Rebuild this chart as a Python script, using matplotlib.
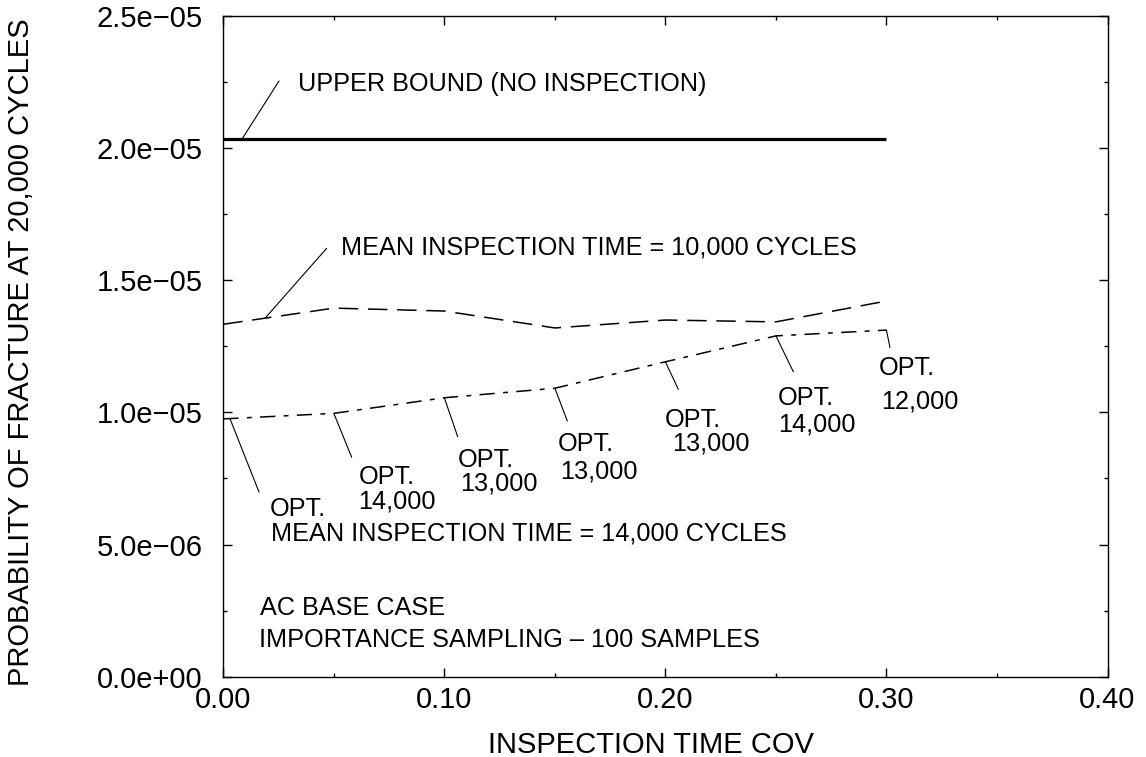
import matplotlib
matplotlib.use("Agg")
import matplotlib.pyplot as plt
from matplotlib.ticker import MultipleLocator, FuncFormatter
import numpy as np

# Inspection time COV values and fracture probabilities
cov = [0.0, 0.05, 0.10, 0.15, 0.20, 0.25, 0.30]
p_mean_10k = [1.333e-5, 1.394e-5, 1.383e-5, 1.319e-5, 1.349e-5, 1.342e-5, 1.421e-5]
p_mean_14k = [9.75e-6, 9.96e-6, 1.055e-5, 1.091e-5, 1.191e-5, 1.289e-5, 1.311e-5]
upper_bound = 2.034e-5
opt_labels = ["", "14,000", "13,000", "13,000", "13,000", "14,000", "12,000"]

x_ticks = [0.0, 0.1, 0.2, 0.3, 0.4]

W, H = 1146, 757
plt.rcParams['font.family'] = ['Liberation Sans', 'DejaVu Sans']
plt.rcParams['lines.scale_dashes'] = False

fig = plt.figure(figsize=(W / 100, H / 100), dpi=100)
ax = fig.add_axes([223.3 / W, 1 - 676.7 / H, (1107.5 - 223.3) / W, (676.7 - 15.7) / H])

# curves
ax.plot([cov[0], cov[-1]], [upper_bound, upper_bound], color='black', lw=2.3, solid_capstyle='butt')
ax.plot(cov, p_mean_10k, color='black', lw=1.1, dashes=(14, 7))
ax.plot(cov, p_mean_14k, color='black', lw=1.1, dashes=(11, 6, 3.5, 6))

ax.set_xlim(0, 0.4)
ax.set_ylim(0, 2.5e-5)
ax.set_xticks(x_ticks)
ax.xaxis.set_minor_locator(MultipleLocator(0.05))
ax.yaxis.set_major_locator(MultipleLocator(5e-6))
ax.yaxis.set_minor_locator(MultipleLocator(2.5e-6))
ax.xaxis.set_major_formatter(FuncFormatter(lambda v, p: f"{v:.2f}"))
ax.yaxis.set_major_formatter(FuncFormatter(lambda v, p: f"{v:.1e}".replace('-', '\u2212')))
ax.tick_params(which='both', direction='in', top=True, right=True, width=1, labelsize=21)
ax.tick_params(which='major', length=6.5)
ax.tick_params(which='minor', length=3.1)
ax.tick_params(axis='y', pad=15)
ax.tick_params(axis='x', pad=7)
for s in ax.spines.values():
    s.set_linewidth(1)

fig.text(650.5 / W, 1 - 745 / H, "INSPECTION TIME COV", fontsize=21, ha='center', va='center')
fig.text(21 / W, 1 - 352 / H, "PROBABILITY OF FRACTURE AT 20,000 CYCLES", fontsize=21,
         rotation=90, ha='center', va='center')


def note(px, py, s):
    # py is the vertical centre of the capitals in pixels from the top
    fig.text(px / W, 1 - (py + 9) / H, s, fontsize=18.2, ha='left', va='baseline')


def leader(x, y, px, py):
    ax.annotate('', xy=(x, y), xytext=(px, H - py), textcoords='figure pixels',
                arrowprops=dict(arrowstyle='-', lw=0.8, color='black', shrinkA=0, shrinkB=0))


note(297.7, 81.7, "UPPER BOUND (NO INSPECTION)")
leader(0.0085, upper_bound, 279, 81)

note(341, 245, "MEAN INSPECTION TIME = 10,000 CYCLES")
leader(0.0189, np.interp(0.0189, cov, p_mean_10k), 326.7, 248.3)

note(270, 507, "OPT.")
note(271, 531, "MEAN INSPECTION TIME = 14,000 CYCLES")

opt_ends = [(259, 492), (351.7, 457.3), (457.7, 436.7), (567.3, 421), (678.3, 389.3), (793.3, 371.7), (890, 347.7)]
opt_text = [None, (358.3, 475, 358.3, 499), (457.7, 458, 460, 482), (557.3, 441.7, 560, 470),
            (664.3, 418.3, 671.7, 441), (777.3, 396, 778.3, 422.7), (878.3, 365.7, 880.7, 399)]
for i, x in enumerate(cov):
    xs = x if x > 0 else 0.003
    leader(xs, np.interp(xs, cov, p_mean_14k), *opt_ends[i])
    if opt_text[i] is not None:
        tx1, ty1, tx2, ty2 = opt_text[i]
        note(tx1, ty1, "OPT.")
        note(tx2, ty2, opt_labels[i])

note(259.9, 606, "AC BASE CASE")
note(258.7, 638, "IMPORTANCE SAMPLING \u2013 100 SAMPLES")

fig.savefig("out.png", dpi=100)
